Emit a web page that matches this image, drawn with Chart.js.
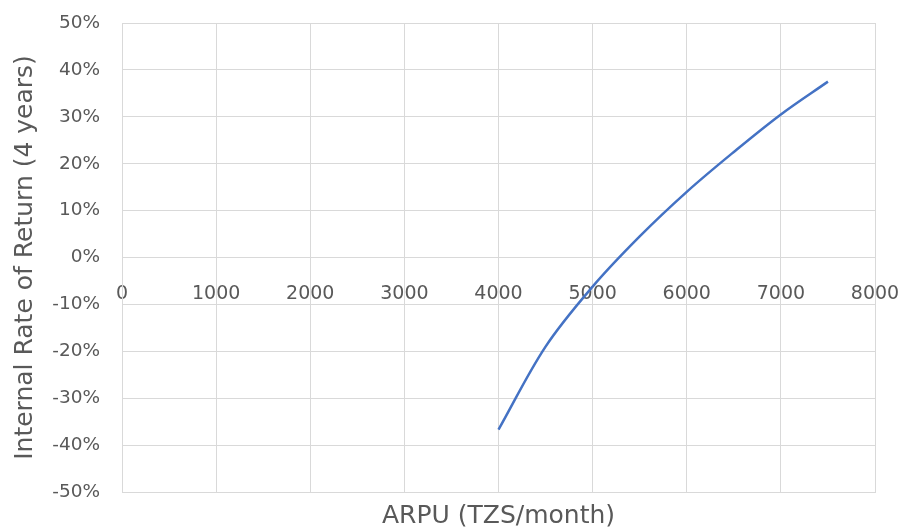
<!DOCTYPE html>
<html><head><meta charset="utf-8">
<script src="https://cdn.jsdelivr.net/npm/chart.js@4"></script>
<style>html,body{margin:0;padding:0;background:#fff}#wrap{width:905px;height:531px;position:relative}</style>
</head><body><div id="wrap"><canvas id="c"></canvas></div>
<script>
// ARPU (TZS/month) vs. 4-year internal rate of return (%)
const arpu = [4000, 4500, 5000, 5500, 6000, 6500, 7000, 7500];
const irr = [-36.7, -19, -6.2, 4.5, 14, 22.5, 30.5, 37.5];
const xRange = [0, 8000];
const yRange = [-50, 50];
const xStep = 1000;
const yStep = 10;

const textColor = '#595959';
const gridColor = '#d9d9d9';
const family = '"DejaVu Sans", "Liberation Sans", sans-serif';

// the outer margins come from layout.padding alone, not from label overhang
function noOverhang(s) {
  s.paddingTop = 0; s.paddingBottom = 0; s.paddingLeft = 0; s.paddingRight = 0;
}

new Chart(document.getElementById('c'), {
  type: 'line',
  data: {
    datasets: [{
      data: arpu.map((x, i) => ({ x: x, y: irr[i] })),
      borderColor: '#4472C4',
      borderWidth: 2.5,
      pointRadius: 0,
      tension: 0.35,
      fill: false
    }]
  },
  options: {
    responsive: true,
    maintainAspectRatio: false,
    animation: false,
    plugins: { legend: { display: false }, tooltip: { enabled: false } },
    layout: { padding: { top: 23, right: 30, left: 0, bottom: 0 } },
    scales: {
      x: {
        type: 'linear', position: 'bottom', min: xRange[0], max: xRange[1],
        ticks: { display: false, stepSize: xStep },
        grid: { color: gridColor, lineWidth: 1, drawTicks: false },
        border: { display: true, color: gridColor },
        title: { display: true, text: 'ARPU (TZS/month)', color: textColor,
                 font: { family: family, size: 25 }, padding: { top: 0, bottom: 0 } },
        afterFit(s) { s.height = 39; noOverhang(s); }
      },
      x2: {
        type: 'linear', position: { y: 0 }, min: xRange[0], max: xRange[1],
        ticks: { stepSize: xStep, color: textColor, font: { family: family, size: 19 },
                 padding: 25, maxRotation: 0, callback: v => String(v) },
        grid: { display: false, drawTicks: false },
        border: { display: false },
        afterFit(s) { noOverhang(s); }
      },
      y: {
        min: yRange[0], max: yRange[1],
        ticks: { stepSize: yStep, color: textColor, font: { family: family, size: 18.5 },
                 padding: 22, callback: v => v + '%' },
        grid: { color: gridColor, lineWidth: 1, drawTicks: false },
        border: { display: true, color: gridColor },
        title: { display: true, text: 'Internal Rate of Return (4 years)', color: textColor,
                 font: { family: family, size: 25 }, padding: { top: 10, bottom: 0 } },
        afterFit(s) { s.width = 122; noOverhang(s); }
      }
    }
  }
});
</script>
</body></html>
